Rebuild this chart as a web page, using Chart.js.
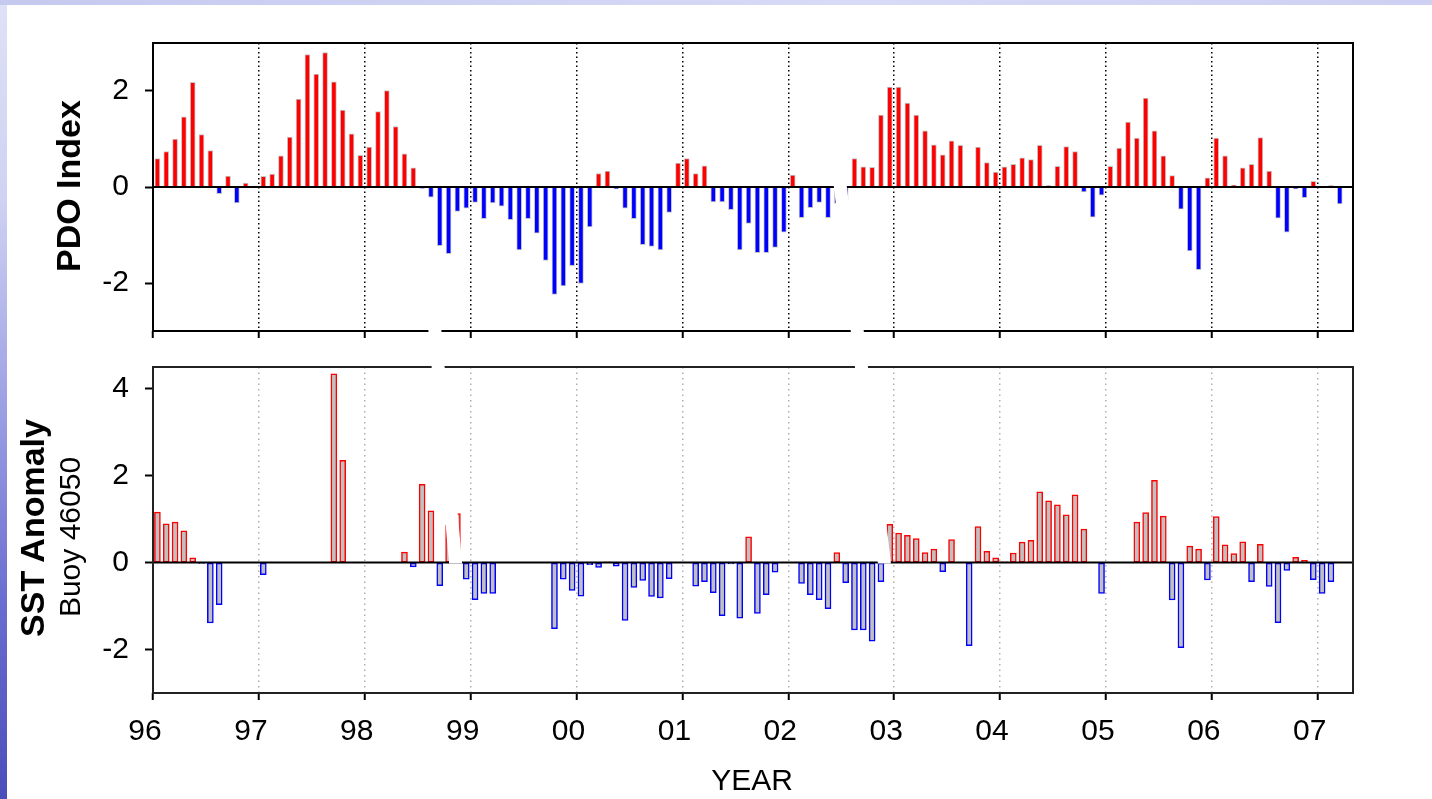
<!DOCTYPE html>
<html>
<head>
<meta charset="utf-8">
<title>PDO Index and SST Anomaly, Buoy 46050</title>
<script src="https://cdn.jsdelivr.net/npm/chart.js@4.4.1/dist/chart.umd.min.js"></script>
<style>
  html, body { margin: 0; padding: 0; background: #fff; }
  #page { position: relative; width: 1432px; height: 799px; overflow: hidden; background: #fff;
          font-family: "Liberation Sans", Arial, sans-serif; color: #000; }
  .edge-left { position: absolute; left: 0; top: 0; width: 7px; height: 799px;
               background: linear-gradient(to bottom, #dfe1f6 0%, #cfd2f2 25%, #9ea2e4 50%, #6a6ed0 75%, #4a4eba 100%); }
  .edge-top { position: absolute; left: 0; top: 0; width: 1432px; height: 5px;
              background: linear-gradient(to right, #c5c9ef, #d8dbf6 60%, #cdd0f2); }
  canvas { position: absolute; left: 0; }
  .ytitle { position: absolute; white-space: nowrap; line-height: 1;
            transform: translate(-50%, -50%) rotate(-90deg); }
  .xtitle { position: absolute; white-space: nowrap; line-height: 1; transform: translate(-50%, -50%); }
</style>
</head>
<body>
<div id="page">
  <div class="edge-left"></div>
  <div class="edge-top"></div>
  <canvas id="pdoChart" width="1432" height="345" style="top:0"></canvas>
  <canvas id="sstChart" width="1432" height="454" style="top:345px"></canvas>
  <canvas id="breaks" width="1432" height="799" style="top:0"></canvas>
  <div class="ytitle" style="left:68px; top:186px; font-size:34px; font-weight:bold;">PDO Index</div>
  <div class="ytitle" style="left:32px; top:528px; font-size:34px; font-weight:bold;">SST Anomaly</div>
  <div class="ytitle" style="left:70px; top:537px; font-size:30px;">Buoy 46050</div>
  <div class="xtitle" style="left:752px; top:780px; font-size:30px;">YEAR</div>
</div>
<script>
  // monthly values, Jan 1996 onwards (month index 0 = Jan 96)
  var pdoValues = [
    0.59, 0.74, 1.00, 1.46, 2.18, 1.09, 0.76, -0.14, 0.23, -0.33, 0.08, -0.02,
    0.22, 0.27, 0.65, 1.04, 1.83, 2.76, 2.35, 2.80, 2.19, 1.60, 1.11, 0.66,
    0.83, 1.57, 2.01, 1.26, 0.69, 0.40, -0.03, -0.21, -1.22, -1.39, -0.51, -0.44,
    -0.32, -0.66, -0.33, -0.40, -0.68, -1.31, -0.66, -0.96, -1.53, -2.24, -2.06, -1.64,
    -2.01, -0.83, 0.28, 0.33, -0.04, -0.44, -0.66, -1.20, -1.24, -1.31, -0.53, 0.50,
    0.59, 0.28, 0.44, -0.31, -0.31, -0.47, -1.31, -0.76, -1.37, -1.37, -1.26, -0.94,
    0.25, -0.64, -0.43, -0.32, -0.64, -0.34, -0.30, 0.59, 0.42, 0.41, 1.50, 2.08,
    2.08, 1.75, 1.50, 1.17, 0.88, 0.67, 0.96, 0.87, 0.00, 0.83, 0.51, 0.31,
    0.42, 0.47, 0.61, 0.57, 0.87, 0.03, 0.43, 0.84, 0.74, -0.10, -0.63, -0.17,
    0.43, 0.81, 1.35, 1.02, 1.85, 1.17, 0.65, 0.24, -0.46, -1.33, -1.72, 0.19,
    1.02, 0.65, 0.04, 0.40, 0.47, 1.03, 0.33, -0.65, -0.94, -0.04, -0.22, 0.12,
    0.00, 0.03, -0.35
  ];

  var sstValues = [
    1.16, 0.89, 0.93, 0.73, 0.11, -0.02, -1.39, -0.97, null, null, null, null,
    -0.28, null, null, null, null, null, null, null, 4.34, 2.35, null, null,
    null, null, null, null, 0.24, -0.10, 1.80, 1.19, -0.53, 0.87, 1.13, -0.38,
    -0.85, -0.71, -0.71, null, null, null, null, null, null, -1.52, -0.38, -0.64,
    -0.77, -0.05, -0.11, 0.02, -0.08, -1.33, -0.57, -0.41, -0.78, -0.81, -0.37, null,
    null, -0.54, -0.44, -0.69, -1.22, -0.03, -1.28, 0.59, -1.17, -0.74, -0.22, null,
    null, -0.48, -0.74, -0.85, -1.06, 0.23, -0.46, -1.55, -1.55, -1.81, -0.44, 0.88,
    0.68, 0.63, 0.55, 0.23, 0.31, -0.21, 0.53, 0.01, -1.91, 0.83, 0.26, 0.11,
    0.02, 0.22, 0.47, 0.51, 1.63, 1.42, 1.33, 1.10, 1.56, 0.77, 0.01, -0.71,
    null, null, null, 0.93, 1.15, 1.89, 1.07, -0.86, -1.96, 0.38, 0.31, -0.40,
    1.06, 0.41, 0.21, 0.48, -0.44, 0.42, -0.55, -1.38, -0.18, 0.12, 0.05, -0.39,
    -0.71, -0.44
  ];

  var yearTicks = [0, 12, 24, 36, 48, 60, 72, 84, 96, 108, 120, 132];
  var yearLabels = ["96", "97", "98", "99", "00", "01", "02", "03", "04", "05", "06", "07"];
  var pdoTicks = [-2, 0, 2];
  var sstTicks = [-2, 0, 2, 4];

  // white slanted "axis break" marks:
  // [month at top zero line, month at bottom zero line, top-panel value where the mark starts]
  var axisBreaks = [[30.5, 34.3, -0.3], [77.9, 82.9, 0.05]];

  var FONT = "'Liberation Sans', Arial, sans-serif";

  function toPoints(values) {
    return values.map(function (v, i) { return { x: i + 0.5, y: v }; });
  }

  // keep the plot box where the layout padding puts it
  function noLabelPadding(scale) {
    scale.paddingTop = 0;
    scale.paddingBottom = 0;
    scale.paddingLeft = 0;
    scale.paddingRight = 0;
  }

  var panelFrame = {
    id: "panelFrame",
    afterDatasetsDraw: function (chart, args, opts) {
      var ctx = chart.ctx, a = chart.chartArea;
      var y0 = chart.scales.y.getPixelForValue(0);
      ctx.save();
      ctx.strokeStyle = "#000";
      ctx.lineWidth = 2;
      ctx.beginPath();
      ctx.moveTo(a.left, y0);
      ctx.lineTo(a.right, y0);
      ctx.stroke();
      ctx.strokeStyle = opts.color || "#000";
      ctx.strokeRect(a.left, a.top, a.right - a.left, a.bottom - a.top);
      ctx.restore();
    }
  };

  function xScale(showLabels, gridColor, dash) {
    return {
      type: "linear",
      min: 0,
      max: 136,
      offset: false,
      afterBuildTicks: function (scale) {
        scale.ticks = yearTicks.map(function (v) { return { value: v }; });
      },
      afterFit: function (scale) {
        scale.height = showLabels ? 106 : 14;
        noLabelPadding(scale);
      },
      ticks: {
        display: showLabels,
        autoSkip: false,
        maxRotation: 0,
        padding: 14,
        labelOffset: -8,
        color: "#000",
        font: { family: FONT, size: 30 },
        callback: function (value, index) { return yearLabels[index]; }
      },
      grid: {
        offset: false,
        drawOnChartArea: true,
        color: function (c) { return c.index === 0 ? "rgba(0,0,0,0)" : gridColor; },
        lineWidth: 1.5,
        drawTicks: true,
        tickLength: 7,
        tickColor: "#000",
        tickWidth: 2,
        tickBorderDash: []
      },
      border: { display: false, dash: dash }
    };
  }

  function yScale(min, max, tickValues) {
    return {
      min: min,
      max: max,
      afterBuildTicks: function (scale) {
        scale.ticks = tickValues.map(function (v) { return { value: v }; });
      },
      afterFit: function (scale) {
        scale.width = 153;
        noLabelPadding(scale);
      },
      ticks: {
        padding: 16,
        color: "#000",
        font: { family: FONT, size: 30 },
        callback: function (value) { return String(value); }
      },
      grid: {
        drawOnChartArea: false,
        drawTicks: true,
        tickLength: 8,
        tickColor: "#000",
        tickWidth: 2
      },
      border: { display: false }
    };
  }

  var pdoChart = new Chart(document.getElementById("pdoChart"), {
    type: "bar",
    data: {
      datasets: [{
        data: toPoints(pdoValues),
        barThickness: 5,
        backgroundColor: function (c) { return c.raw && c.raw.y < 0 ? "#0000ff" : "#ff0000"; },
        borderColor: "#c6c6c6",
        borderWidth: 1
      }]
    },
    options: {
      responsive: false,
      animation: false,
      events: [],
      layout: { padding: { top: 43, right: 79, left: 0, bottom: 0 } },
      plugins: { legend: { display: false }, tooltip: { enabled: false }, panelFrame: { color: "#000" } },
      scales: {
        x: xScale(false, "#000", [1.5, 3]),
        y: yScale(-3, 3, pdoTicks)
      }
    },
    plugins: [panelFrame]
  });

  var sstChart = new Chart(document.getElementById("sstChart"), {
    type: "bar",
    data: {
      datasets: [{
        data: toPoints(sstValues),
        barThickness: 6,
        backgroundColor: "#c0c0c0",
        borderColor: function (c) { return c.raw && c.raw.y < 0 ? "#0000ff" : "#ff0000"; },
        borderWidth: 1.5,
        borderSkipped: false
      }]
    },
    options: {
      responsive: false,
      animation: false,
      events: [],
      layout: { padding: { top: 22, right: 79, left: 0, bottom: 0 } },
      plugins: { legend: { display: false }, tooltip: { enabled: false }, panelFrame: { color: "#222" } },
      scales: {
        x: xScale(true, "#b0b0b0", [1.5, 4]),
        y: yScale(-3, 4.5, sstTicks)
      }
    },
    plugins: [panelFrame]
  });

  // break marks drawn over both panels
  (function drawBreaks() {
    var ctx = document.getElementById("breaks").getContext("2d");
    var topOffset = 0, botOffset = 345, hw = 6.5;
    ctx.fillStyle = "#fff";
    axisBreaks.forEach(function (b) {
      var x1 = pdoChart.scales.x.getPixelForValue(b[0]);
      var y1 = pdoChart.scales.y.getPixelForValue(0) + topOffset;
      var x2 = sstChart.scales.x.getPixelForValue(b[1]);
      var y2 = sstChart.scales.y.getPixelForValue(0) + botOffset + 1;
      // start point moved along the same slanted line
      var ys = pdoChart.scales.y.getPixelForValue(b[2]) + topOffset;
      var xs = x1 + (x2 - x1) * (ys - y1) / (y2 - y1);
      ctx.beginPath();
      ctx.moveTo(xs - hw, ys);
      ctx.lineTo(xs + hw, ys);
      ctx.lineTo(x2 + hw, y2);
      ctx.lineTo(x2 - hw, y2);
      ctx.closePath();
      ctx.fill();
    });
  })();
</script>
</body>
</html>
